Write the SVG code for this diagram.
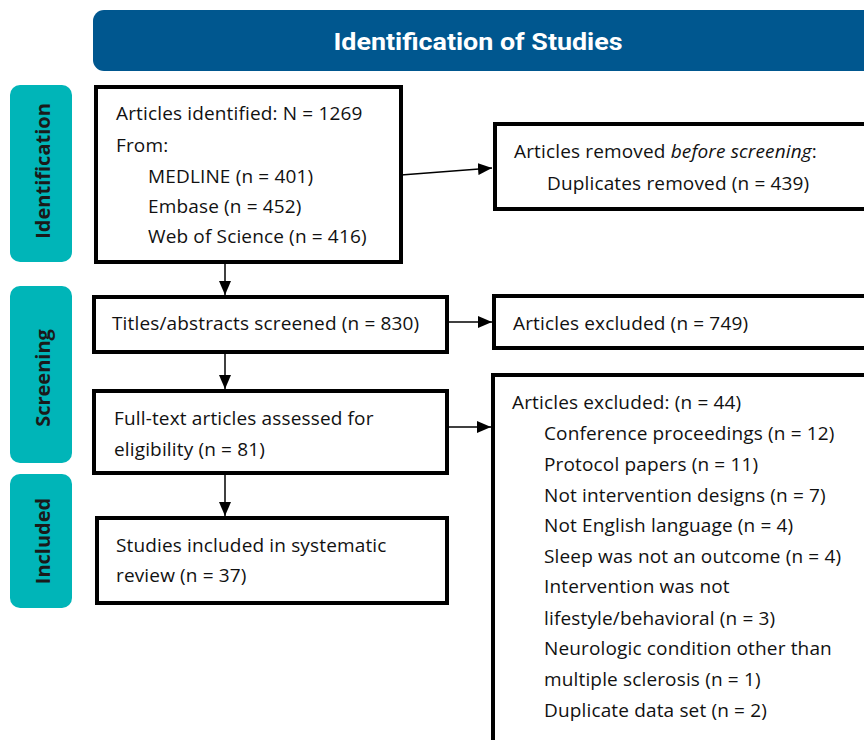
<svg xmlns="http://www.w3.org/2000/svg" width="864" height="740" viewBox="0 0 864 740">
<style>
.box{fill:#fff;stroke:#000;stroke-width:4}
.side{fill:#00b5b8}
.sidet{font-family:"Open Sans","Noto Sans",sans-serif;font-weight:bold;font-size:20px;fill:#1a1a1a;text-anchor:middle}
.t{font-family:"Open Sans","Noto Sans",sans-serif;font-size:19px;letter-spacing:0.15px;fill:#111}
.c{stroke:#000;stroke-width:1.5;fill:none}
</style>
<defs>
<marker id="ah" markerWidth="14" markerHeight="12" refX="14" refY="6" orient="auto" markerUnits="userSpaceOnUse">
<path d="M0,0 L14,6 L0,12 Z" fill="#000"/>
</marker>
</defs>
<rect width="864" height="740" fill="#fff"/>
<g id="header">
<rect x="93" y="10" width="800" height="61" rx="11" fill="#00578f"/>
<text x="478" y="50" text-anchor="middle" font-family="Roboto,'Open Sans',sans-serif" font-weight="bold" font-size="24" fill="#fff" textLength="289" lengthAdjust="spacingAndGlyphs">Identification of Studies</text>
</g>
<g id="side-identification">
<rect class="side" x="10" y="85" width="62" height="177" rx="10"/>
<text class="sidet" transform="translate(50,171) rotate(-90)">Identification</text>
</g>
<g id="side-screening">
<rect class="side" x="10" y="286" width="62" height="177" rx="10"/>
<text class="sidet" transform="translate(50,378) rotate(-90)">Screening</text>
</g>
<g id="side-included">
<rect class="side" x="10" y="474" width="62" height="134" rx="10"/>
<text class="sidet" transform="translate(50,541) rotate(-90)">Included</text>
</g>
<g id="n-identified">
<rect class="box" x="96" y="87" width="305" height="175"/>
<text class="t" x="116" y="120">Articles identified: N = 1269</text>
<text class="t" x="116" y="152">From:</text>
<text class="t" x="148" y="183">MEDLINE (n = 401)</text>
<text class="t" x="148" y="213">Embase (n = 452)</text>
<text class="t" x="148" y="243">Web of Science (n = 416)</text>
</g>
<g id="n-removed">
<rect class="box" x="495" y="124" width="380" height="85"/>
<text class="t" x="514" y="158">Articles removed <tspan font-style="italic">before screening</tspan>:</text>
<text class="t" x="547" y="190">Duplicates removed (n = 439)</text>
</g>
<g id="n-screened">
<rect class="box" x="94" y="297" width="353" height="55"/>
<text class="t" x="112" y="330">Titles/abstracts screened (n = 830)</text>
</g>
<g id="n-excluded1">
<rect class="box" x="494" y="296" width="380" height="52"/>
<text class="t" x="513" y="330">Articles excluded (n = 749)</text>
</g>
<g id="n-fulltext">
<rect class="box" x="94" y="391" width="353" height="82"/>
<text class="t" x="114" y="425">Full-text articles assessed for</text>
<text class="t" x="114" y="456">eligibility (n = 81)</text>
</g>
<g id="n-excluded2">
<rect class="box" x="493" y="375" width="380" height="380"/>
<text class="t" x="512" y="409">Articles excluded: (n = 44)</text>
<text class="t" x="544" y="440">Conference proceedings (n = 12)</text>
<text class="t" x="544" y="471">Protocol papers (n = 11)</text>
<text class="t" x="544" y="502">Not intervention designs (n = 7)</text>
<text class="t" x="544" y="532">Not English language (n = 4)</text>
<text class="t" x="544" y="563">Sleep was not an outcome (n = 4)</text>
<text class="t" x="544" y="593">Intervention was not</text>
<text class="t" x="544" y="625">lifestyle/behavioral (n = 3)</text>
<text class="t" x="544" y="655">Neurologic condition other than</text>
<text class="t" x="544" y="686">multiple sclerosis (n = 1)</text>
<text class="t" x="544" y="717">Duplicate data set (n = 2)</text>
</g>
<g id="n-included">
<rect class="box" x="97" y="518" width="350" height="85"/>
<text class="t" x="116" y="552">Studies included in systematic</text>
<text class="t" x="116" y="582">review (n = 37)</text>
</g>
<g id="connectors">
<line class="c" x1="401" y1="175" x2="492" y2="168" marker-end="url(#ah)"/>
<line class="c" x1="225" y1="262" x2="225" y2="295" marker-end="url(#ah)"/>
<line class="c" x1="447" y1="322" x2="492" y2="322" marker-end="url(#ah)"/>
<line class="c" x1="225" y1="352" x2="225" y2="389" marker-end="url(#ah)"/>
<line class="c" x1="447" y1="427" x2="491" y2="427" marker-end="url(#ah)"/>
<line class="c" x1="225" y1="473" x2="225" y2="516" marker-end="url(#ah)"/>
</g>
</svg>
